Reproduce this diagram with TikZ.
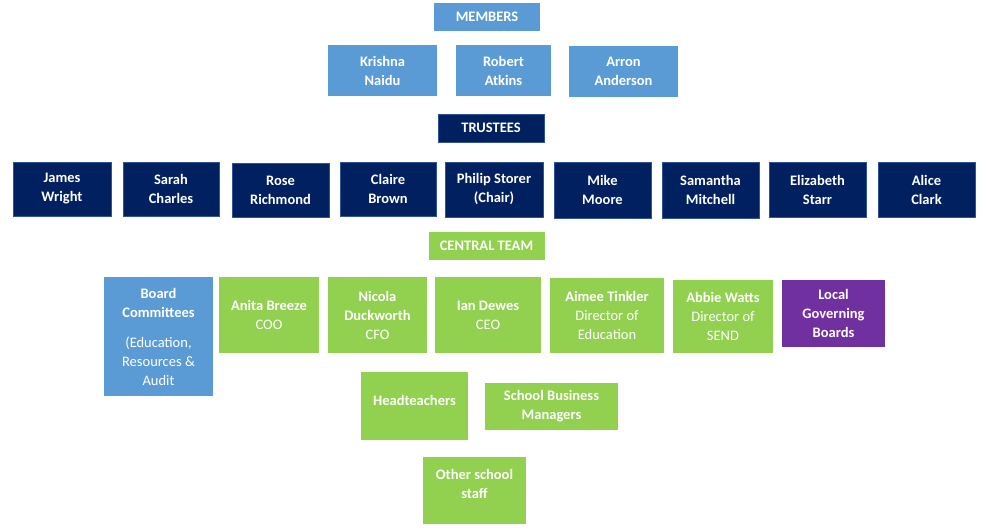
\documentclass[tikz,border=0pt]{standalone}
\usepackage{fontspec}
\setmainfont{Carlito}
\definecolor{SkyBlue}{HTML}{5B9BD5}
\definecolor{Navy}{HTML}{002060}
\definecolor{NavyEdge}{HTML}{2F5597}
\definecolor{Lime}{HTML}{92D050}
\definecolor{Plum}{HTML}{7030A0}
\usepackage{tikz}
\usetikzlibrary{positioning}

\tikzset{
  box/.style={inner sep=0pt, align=center, text=white,
    font=\fontsize{14.5}{19}\selectfont\bfseries},
  size/.style 2 args={minimum width=#1pt, minimum height=#2pt},
  memberbox/.style={box, fill=SkyBlue},
  trusteebox/.style={box, fill=Navy, draw=NavyEdge, line width=0.8pt},
  teambox/.style={box, fill=Lime},
  govbox/.style={box, fill=Plum}
}

\begin{document}
\begin{tikzpicture}[x=1pt,y=-1pt]
    \useasboundingbox (0,0) rectangle (987,530);

    % Members
    \node[memberbox, size={106}{28}] (members) at (487,17) {MEMBERS};
    \node[memberbox, size={109}{51}] (krishna) at (382.5,70.5) {Krishna\\Naidu};
    \node[memberbox, size={95}{51}] (robert) at (503.5,70.5) {Robert\\Atkins};
    \node[memberbox, size={109}{51}] (arron) at (623.5,71.5) {Arron\\Anderson};

    % Trustees
    \node[trusteebox, size={106}{28}] (trustees) at (491,128) {TRUSTEES};
    \node[trusteebox, size={98}{54}] (james) at (62,189) {James\\Wright};
    \node[trusteebox, size={96}{54}] (sarah) at (171,189) {Sarah\\Charles};
    \node[trusteebox, size={97}{54}] (rose) at (280.5,190) {Rose\\Richmond};
    \node[trusteebox, size={96}{54}] (claire) at (388,189) {Claire\\Brown};
    \node[trusteebox, size={98}{55}] (philip) at (494,189.5) {Philip Storer\\(Chair)};
    \node[trusteebox, size={97}{56}] (mike) at (602.5,190) {Mike\\Moore};
    \node[trusteebox, size={97}{56}] (samantha) at (710.5,190) {Samantha\\Mitchell};
    \node[trusteebox, size={97}{55}] (elizabeth) at (817.5,189.5) {Elizabeth\\Starr};
    \node[trusteebox, size={97}{55}] (alice) at (926.5,189.5) {Alice\\Clark};

    % Central team
    \node[teambox, size={116}{28}] (central) at (486.5,246) {CENTRAL TEAM};
    \node[memberbox, size={109}{119}] (committees) at (158.5,336.5)
      {Board\\Committees\\[11pt]{\mdseries (Education,}\\{\mdseries Resources \&}\\{\mdseries Audit}};
    \node[teambox, size={100}{76}] (anita) at (269,315) {Anita Breeze\\{\mdseries COO}};
    \node[teambox, size={99}{76}] (nicola) at (377.5,315) {Nicola\\Duckworth\\{\mdseries CFO}};
    \node[teambox, size={106}{76}] (ian) at (488,315) {Ian Dewes\\{\mdseries CEO}};
    \node[teambox, size={114}{75}] (aimee) at (607,315.5)
      {Aimee Tinkler\\{\mdseries Director of}\\{\mdseries Education}};
    \node[teambox, size={100}{73}] (abbie) at (723,316.5)
      {Abbie Watts\\{\mdseries Director of}\\{\mdseries SEND}};
    \node[govbox, size={103}{67}] (local) at (833.5,313.5) {Local\\Governing\\Boards};

    % Schools
    \node[teambox, size={107}{68}, text depth=12pt] (heads) at (414.5,406) {Headteachers};
    \node[teambox, size={133}{47}] (business) at (551.5,406.5) {School Business\\Managers};
    \node[teambox, size={103}{67}] (staff) at (474.5,490.5) {Other school\\staff\\[-5pt]\mbox{}};
\end{tikzpicture}
\end{document}
